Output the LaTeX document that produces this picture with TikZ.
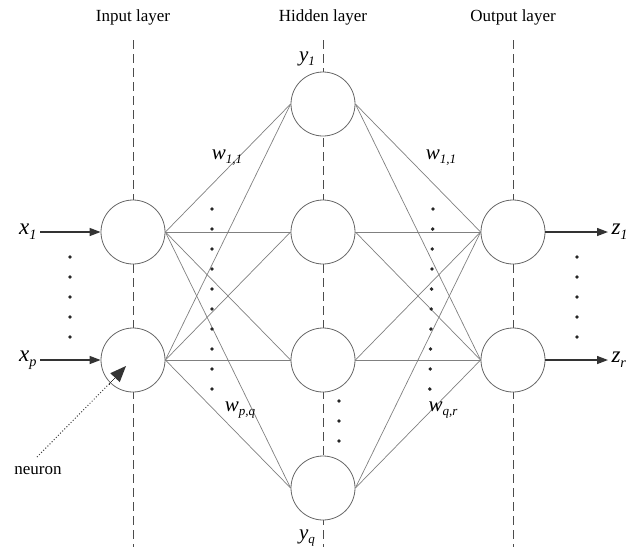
\documentclass[tikz,border=0pt]{standalone}
\usepackage{fontspec}
\setmainfont{Liberation Serif}
\usetikzlibrary{arrows.meta}
\newcommand\ilab[2]{\textit{#1}\raisebox{-0.45ex}{\fontsize{0.62em}{1em}\selectfont\textit{#2}}}
\begin{document}
\begin{tikzpicture}[x=1pt,y=-1pt,
  neur/.style={circle,draw=black!60,fill=white,line width=0.8pt,minimum size=64pt,inner sep=0pt},
  guide/.style={draw=black!70,line width=1pt,dash pattern=on 9pt off 5pt},
  conn/.style={draw=black!50,line width=0.7pt},
  inarrow/.style={draw=black!80,line width=1.3pt,-{Triangle[length=11pt,width=8pt]}},
  dotm/.style={circle,fill=black!85,inner sep=0pt,minimum size=3.8pt},
  title/.style={font=\fontsize{17}{19}\selectfont},
  big/.style={font=\fontsize{23}{26}\selectfont},
  wlab/.style={font=\fontsize{21}{24}\selectfont}]
\useasboundingbox (0,0) rectangle (627,550);
% guide lines
\coordinate (gi1) at (133,40); \coordinate (gi2) at (133,547);
\coordinate (gh1) at (323,40); \coordinate (gh2) at (323,547);
\coordinate (go1) at (513,40); \coordinate (go2) at (513,547);
\draw[guide] (gi1) -- (gi2);
\draw[guide] (gh1) -- (gh2);
\draw[guide] (go1) -- (go2);
% titles
\node[title] (tin) at (133,17) {Input layer};
\node[title] (thid) at (323,17) {Hidden layer};
\node[title] (tout) at (513,17) {Output layer};
% neurons
\node[neur] (i1) at (133,232) {};
\node[neur] (i2) at (133,360) {};
\node[neur] (h1) at (323,104) {};
\node[neur] (h2) at (323,232) {};
\node[neur] (h3) at (323,360) {};
\node[neur] (h4) at (323,488) {};
\node[neur] (o1) at (513,232) {};
\node[neur] (o2) at (513,360) {};
% connections
\foreach \i in {i1,i2}{\foreach \h in {h1,h2,h3,h4}{\draw[conn] (\i.east) -- (\h.west);}}
\foreach \h in {h1,h2,h3,h4}{\foreach \o in {o1,o2}{\draw[conn] (\h.east) -- (\o.west);}}
% inputs / outputs
\coordinate (xs1) at (40,232); \coordinate (xs2) at (40,360);
\coordinate (ze1) at (608,232); \coordinate (ze2) at (608,360);
\draw[inarrow] (xs1) -- (i1.west);
\draw[inarrow] (xs2) -- (i2.west);
\draw[inarrow] (o1.east) -- (ze1);
\draw[inarrow] (o2.east) -- (ze2);
\node[big,anchor=east] (lx1) at (xs1) {\ilab{x}{1}};
\node[big,anchor=east] (lxp) at (xs2) {\ilab{x}{p}};
\node[big,anchor=west] (lz1) at (ze1) {\ilab{z}{1}};
\node[big,anchor=west] (lz2) at (ze2) {\ilab{z}{r}};
% labels
\node[wlab,fill=white,inner sep=1pt] (ly1) at (307,59) {\ilab{y}{1}};
\node[wlab,fill=white,inner sep=1pt] (lyq) at (307,538) {\ilab{y}{q}};
\node[wlab] (w1) at (227,158) {\ilab{w}{1,1}};
\node[wlab] (w2) at (441,158) {\ilab{w}{1,1}};
\node[wlab] (w3) at (240,410) {\ilab{w}{p,q}};
\node[wlab] (w4) at (443,410) {\ilab{w}{q,r}};
% dots
\foreach \k [count=\n] in {0,...,4}{\node[dotm] (dl\n) at (70,257+20*\k) {};}
\foreach \k [count=\n] in {0,...,4}{\node[dotm] (dr\n) at (577,257+20*\k) {};}
\foreach \k [count=\n] in {0,...,9}{\node[dotm] (dm\n) at (212,209+20*\k) {};}
\foreach \k [count=\n] in {0,...,9}{\node[dotm] (dn\n) at (433-0.35*\k,209+20*\k) {};}
\foreach \k [count=\n] in {0,...,2}{\node[dotm] (dh\n) at (339,401+20*\k) {};}
% neuron pointer
\node[font=\fontsize{17}{19}\selectfont] (neu) at (38,471) {neuron};
\coordinate (np) at (37,457);
\coordinate (nt) at (126,366);
\draw[black!75,line width=1pt,dotted] (np) -- (109,384);
\draw[black!80,line width=0pt,-{Triangle[length=16pt,width=13pt]}] (109,384) -- (nt);
\end{tikzpicture}
\end{document}
